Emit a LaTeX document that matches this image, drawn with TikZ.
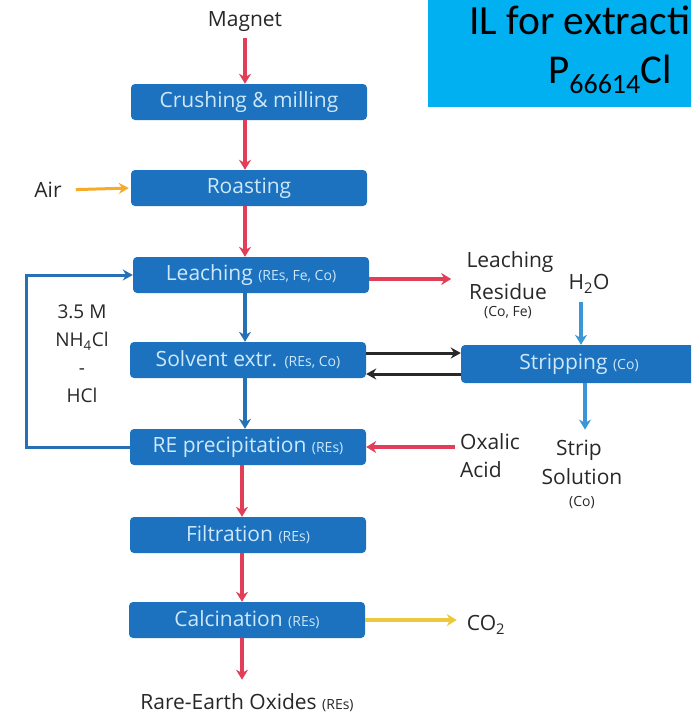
\documentclass[tikz,border=0pt]{standalone}
\usepackage{fontspec}
\setmainfont{Open Sans}
\newfontfamily\calfont{Carlito}
\usetikzlibrary{arrows.meta,calc}
\definecolor{boxblue}{RGB}{28,114,190}
\definecolor{boxtext}{RGB}{205,232,250}
\definecolor{flowred}{RGB}{226,62,88}
\definecolor{flowblue}{RGB}{38,112,182}
\definecolor{lightblue}{RGB}{58,150,215}
\definecolor{airorange}{RGB}{246,172,40}
\definecolor{coyellow}{RGB}{238,200,60}
\definecolor{labelgray}{RGB}{40,40,40}
\definecolor{ilcyan}{RGB}{0,176,240}
\newcommand\smalltag[1]{{\fontsize{14}{16}\selectfont #1}}
\begin{document}
\begin{tikzpicture}[x=1pt,y=-1pt,
  procbox/.style={fill=boxblue, rounded corners=4pt, minimum width=236pt,
    minimum height=36pt, text=boxtext, inner sep=0pt,
    font=\fontsize{21}{24}\selectfont},
  lbl/.style={text=labelgray, inner sep=0pt, align=center,
    font=\fontsize{21}{28}\selectfont},
  sublbl/.style={text=labelgray, inner sep=0pt, font=\fontsize{14}{16}\selectfont},
  flow/.style={line width=3.4pt, -{Stealth[length=10pt,width=12pt]}},
  redflow/.style={flow, draw=flowred},
  blueflow/.style={flow, draw=flowblue},
  lightflow/.style={flow, draw=lightblue},
  blackflow/.style={line width=3pt, draw=labelgray, -{Stealth[length=10pt,width=11pt]}},
  loopline/.style={line width=3pt, draw=flowblue, -{Stealth[length=10pt,width=11pt]}}]
\clip (0,0) rectangle (691,715);
\fill[white] (0,0) rectangle (691,715);

% IL box
\fill[ilcyan] (428,-2) rectangle (700,107);
\node[anchor=base west, inner sep=0pt, font=\calfont\fontsize{41.5}{44}\selectfont] (il1) at (469,34) {IL for extracti};
\node[anchor=base west, inner sep=0pt, font=\calfont\fontsize{41}{44}\selectfont] (il2) at (548,83) {P\raisebox{-10pt}{\fontsize{28}{28}\selectfont 66614}Cl};

% process boxes
\node[procbox] (crush) at (249,102) {Crushing \& milling};
\node[procbox] (roast) at (249,188) {Roasting};
\node[procbox] (leach) at (251,275) {Leaching \smalltag{(REs, Fe, Co)}};
\node[procbox] (solv) at (248,360) {Solvent extr. \smalltag{(REs, Co)}};
\node[procbox] (precip) at (248,447) {RE precipitation \smalltag{(REs)}};
\node[procbox] (filt) at (248,535) {Filtration \smalltag{(REs)}};
\node[procbox] (calc) at (247,620) {Calcination \smalltag{(REs)}};
\node[procbox, minimum height=38pt] (strip) at (579,364) {Stripping \smalltag{(Co)}};

% labels
\node[lbl] (magnet) at (245,22) {Magnet};
\node[lbl] (air) at (48,190) {Air};
\node[lbl] (res1) at (510,262) {Leaching};
\node[lbl] (res2) at (508,292) {Residue};
\node[sublbl] (res3) at (508,313) {(Co, Fe)};
\node[lbl] (h2o) at (589,284) {H\textsubscript{2}O};
\node[lbl, align=left, anchor=west] (oxal) at (460,456) {Oxalic\\Acid};
\node[lbl] (sol1) at (579,450) {Strip};
\node[lbl] (sol2) at (582,477) {Solution};
\node[sublbl] (sol3) at (582,503) {(Co)};
\node[lbl, font=\fontsize{19}{28}\selectfont] (nh4) at (82,354) {3.5 M\\NH\textsubscript{4}Cl\\-\\HCl};
\node[lbl] (co2) at (486,625) {CO\textsubscript{2}};
\node[lbl] (reo) at (247,703) {Rare-Earth Oxides \smalltag{(REs)}};

\coordinate (loopx) at (26,0);
\coordinate (h2ox) at (581,0);
\coordinate (stripx) at (585,0);
\coordinate (lowx) at (242,0);
\coordinate (sxup) at ($(solv.east)+(0,-7)$);
\coordinate (sxdn) at ($(solv.east)+(0,14)$);

% main flow
\draw[redflow, shorten <=6pt] (magnet.south) -- (magnet.south |- crush.north);
\draw[redflow] (crush.south -| magnet) -- (roast.north -| magnet);
\draw[redflow] (roast.south -| magnet) -- (leach.north -| magnet);
\draw[blueflow] (leach.south -| magnet) -- (solv.north -| magnet);
\draw[blueflow] (solv.south -| magnet) -- (precip.north -| magnet);
\draw[redflow] (precip.south -| lowx) -- (filt.north -| lowx);
\draw[redflow] (filt.south -| lowx) -- (calc.north -| lowx);
\draw[redflow, shorten >=14pt] (calc.south -| lowx) -- (reo.north -| lowx);

% side streams
\draw[draw=airorange, line width=3pt, -{Stealth[length=10pt,width=11pt]}, shorten <=14pt, shorten >=2pt] (air.east) -- (roast.west);
\draw[redflow] ($(leach.east)+(0,4)$) -- ($(leach.east)+(82,4)$);
\draw[lightflow, shorten <=8pt] (h2o.south -| h2ox) -- (strip.north -| h2ox);
\draw[lightflow, shorten >=10pt] (strip.south -| stripx) -- (sol1.north -| stripx);
\draw[redflow, shorten <=5pt] (oxal.west |- precip.east) -- (precip.east);
\draw[draw=coyellow, line width=3.4pt, -{Stealth[length=10pt,width=12pt]}, shorten >=10pt] (calc.east) -- (co2.west |- calc.east);

% solvent <-> stripping
\draw[blackflow] (sxup) -- (sxup -| strip.west);
\draw[blackflow] (sxdn -| strip.west) -- (sxdn);

% recycle loop
\draw[loopline] (precip.west) -- (precip.west -| loopx) |- (leach.west);
\end{tikzpicture}
\end{document}
